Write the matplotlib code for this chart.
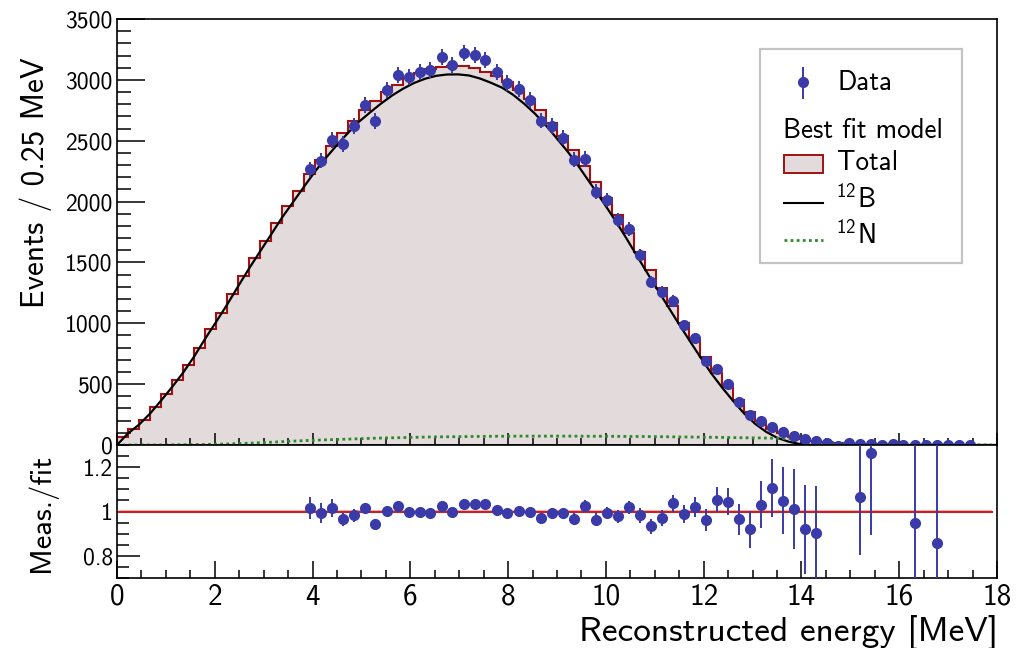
import numpy as np
import matplotlib
matplotlib.use("Agg")
import matplotlib.pyplot as plt
from matplotlib.lines import Line2D
from matplotlib.patches import Rectangle
from matplotlib.ticker import MultipleLocator

plt.rcParams['font.family'] = ['cmss10', 'DejaVu Sans']
plt.rcParams['mathtext.fontset'] = 'custom'
plt.rcParams['mathtext.rm'] = 'cmss10'
plt.rcParams['mathtext.sf'] = 'cmss10'
plt.rcParams['mathtext.it'] = 'cmss10'
plt.rcParams['axes.formatter.use_mathtext'] = True
plt.rcParams['axes.unicode_minus'] = False

# ---------------- data ----------------
bin_width = 0.225
n_bins = 80
first_data_bin = 17

total_events = [63, 129, 205, 310, 419, 534, 657, 800, 950, 1082,
                1238, 1389, 1539, 1676, 1826, 1964, 2089, 2227, 2345, 2460,
                2560, 2665, 2750, 2823, 2900, 2960, 3015, 3058, 3090, 3108,
                3115, 3112, 3098, 3065, 3030, 2985, 2915, 2840, 2750, 2645,
                2535, 2424, 2290, 2162, 2026, 1889, 1739, 1589, 1438, 1290,
                1146, 999, 861, 720, 591, 479, 368, 270, 197, 135,
                95, 68, 50, 36, 26, 18, 13, 10, 8, 6,
                5, 4, 3, 3, 2, 2, 2, 1, 1, 1]

n12_events = [0, 0, 0, 0, 1, 2, 3, 4, 5, 7,
              10, 13, 17, 21, 25, 30, 34, 38, 41, 44,
              47, 50, 53, 56, 58, 60, 62, 64, 66, 67,
              68, 69, 70, 71, 72, 72, 73, 73, 73, 73,
              73, 73, 72, 72, 72, 71, 70, 70, 69, 68,
              67, 66, 65, 64, 63, 62, 60, 59, 58, 56,
              54, 52, 48, 36, 26, 18, 13, 10, 8, 6,
              5, 4, 3, 3, 2, 2, 2, 1, 1, 1]

# 12B best-fit curve, sampled at the bin edges
b12_edges = [0, 96, 167, 258, 364, 475, 593, 725, 871, 1010,
             1152, 1302, 1449, 1589, 1728, 1868, 1995, 2122, 2247, 2360,
             2465, 2564, 2656, 2732, 2805, 2871, 2927, 2974, 3009, 3033,
             3044, 3045, 3036, 3011, 2976, 2936, 2878, 2805, 2722, 2625,
             2517, 2407, 2285, 2154, 2022, 1886, 1744, 1594, 1444, 1296,
             1151, 1006, 865, 726, 592, 473, 363, 260, 175, 109,
             60, 29, 9, 1, 0, 0, 0, 0, 0, 0,
             0, 0, 0, 0, 0, 0, 0, 0, 0, 0,
             0]

data_events = [2265, 2336, 2506, 2473, 2621, 2794, 2662, 2917, 3040, 3021,
               3062, 3081, 3185, 3122, 3218, 3204, 3163, 3062, 2971, 2922,
               2835, 2665, 2621, 2525, 2342, 2350, 2081, 2013, 1849, 1772,
               1561, 1342, 1260, 1186, 986, 877, 693, 624, 501, 351,
               246, 200, 151, 104, 77, 47, 33, 19, -8, 14,
               11, 12, 0, 10, -4, 3, -2, 2, -2, -3,
               -3]

data_err = [62, 62, 63, 63, 64, 64, 64, 65, 65, 65,
            65, 66, 66, 66, 66, 66, 66, 65, 65, 65,
            64, 64, 63, 63, 62, 62, 60, 60, 58, 58,
            50, 48, 46, 44, 42, 40, 37, 34, 31, 28,
            24, 21, 18, 15, 13, 11, 9, 8, 7, 6,
            5, 5, 4, 4, 4, 3, 3, 3, 3, 3,
            3]

nan = np.nan
ratio = [1.016, 0.994, 1.016, 0.964, 0.982, 1.015, 0.943, 1.004, 1.027, 1.000,
         1.000, 0.993, 1.024, 1.000, 1.033, 1.033, 1.033, 1.009, 0.994, 1.004,
         1.000, 0.970, 0.994, 0.994, 0.967, 1.024, 0.963, 0.994, 0.979, 1.019,
         0.982, 0.933, 0.972, 1.037, 0.988, 1.019, 0.963, 1.054, 1.045, 0.964,
         0.919, 1.031, 1.106, 1.049, 1.012, 0.919, 0.903, nan, nan, nan,
         1.064, 1.265, nan, nan, nan, 0.949, nan, 0.858, nan, nan,
         nan]

ratio_err = [0.050, 0.045, 0.040, 0.030, 0.030, 0.025, 0.020, 0.022, 0.022, 0.022,
             0.022, 0.022, 0.022, 0.022, 0.022, 0.022, 0.022, 0.022, 0.022, 0.022,
             0.022, 0.022, 0.024, 0.024, 0.026, 0.026, 0.028, 0.028, 0.030, 0.030,
             0.032, 0.034, 0.036, 0.038, 0.042, 0.046, 0.050, 0.057, 0.062, 0.070,
             0.085, 0.105, 0.130, 0.150, 0.180, 0.200, 0.210, 0.0, 0.0, 0.0,
             0.260, 0.370, 0.0, 0.0, 0.0, 0.600, 0.0, 0.600, 0.0, 0.0,
             0.0]

x_ticks = [0, 2, 4, 6, 8, 10, 12, 14, 16, 18]
y_ticks = [0, 500, 1000, 1500, 2000, 2500, 3000, 3500]
r_ticks = [0.8, 1.0, 1.2]
r_tick_labels = ['0.8', '1', '1.2']

# ---------------- style ----------------
W, H = 1016, 648
BLUE = '#3a3aa8'
FILL = '#e2dadb'
RED = '#a01212'
GREEN = '#2a8a2a'
RLINE = '#cc2020'

edges = np.arange(n_bins + 1) * bin_width
centers = edges[:-1] + bin_width / 2
xd = centers[first_data_bin:first_data_bin + len(data_events)]

fig = plt.figure(figsize=(W / 100, H / 100), dpi=100)


def fx(x):
    return x / W


def fy(y):
    return 1 - y / H


ax = fig.add_axes([fx(117), fy(445), fx(997) - fx(117), fy(19) - fy(445)])
axr = fig.add_axes([fx(117), fy(578), fx(997) - fx(117), fy(445) - fy(578)])

# top panel
ax.stairs(total_events, edges, fill=True, color=FILL, zorder=1)
ax.stairs(total_events, edges, baseline=0, color=RED, lw=1.5, zorder=2)
ax.plot(edges, b12_edges, color='black', lw=1.6, zorder=3)
ax.plot(centers, n12_events, color=GREEN, lw=2.0, ls=(0, (1, 1.2)), zorder=3)
eb = ax.errorbar(xd, data_events, yerr=data_err, fmt='o', color=BLUE, ms=7,
                 elinewidth=1.4, capsize=0, zorder=5)
for art in eb.lines[0:1]:
    art.set_clip_on(False)
for col in eb.lines[2]:
    col.set_clip_on(False)

ax.set_xlim(0, 18)
ax.set_ylim(0, 3500)
ax.set_xticks(x_ticks)
ax.set_xticklabels([])
ax.xaxis.set_minor_locator(MultipleLocator(0.5))
ax.set_yticks(y_ticks)
ax.set_yticklabels([str(v) for v in y_ticks])
ax.yaxis.set_minor_locator(MultipleLocator(100))
ax.tick_params(axis='both', which='both', direction='in', top=False, right=False,
               width=1.1, colors='black')
ax.tick_params(axis='y', which='major', length=20, labelsize=17, pad=3)
ax.tick_params(axis='y', which='minor', length=10)
ax.tick_params(axis='x', which='major', length=8.5)
ax.tick_params(axis='x', which='minor', length=5)
for s in ax.spines.values():
    s.set_linewidth(1.2)

# ratio panel
axr.fill_between([0.05, 17.9], [0.992, 0.992], [1.008, 1.008], color='#f0b4b4', lw=0, zorder=1)
axr.plot([0.05, 17.9], [1.0, 1.0], color=RLINE, lw=1.5, zorder=2)
axr.errorbar(xd, ratio, yerr=ratio_err, fmt='o', color=BLUE, ms=7,
             elinewidth=1.4, capsize=0, zorder=5)
axr.set_xlim(0, 18)
axr.set_ylim(0.7, 1.3)
axr.set_xticks(x_ticks)
axr.set_xticklabels([str(v) for v in x_ticks])
axr.xaxis.set_minor_locator(MultipleLocator(0.5))
axr.set_yticks(r_ticks)
axr.set_yticklabels(r_tick_labels)
axr.yaxis.set_minor_locator(MultipleLocator(0.05))
axr.tick_params(axis='both', which='both', direction='in', top=False, right=False,
                width=1.1, colors='black')
axr.tick_params(axis='x', which='major', length=12, labelsize=21, pad=4)
axr.tick_params(axis='x', which='minor', length=6)
axr.tick_params(axis='y', which='major', length=16.5, labelsize=17, pad=3)
axr.tick_params(axis='y', which='minor', length=8.5)
for s in axr.spines.values():
    s.set_linewidth(1.2)

# axis titles
fig.text(fx(36), fy(57), 'Events / 0.25 MeV', rotation=90, ha='center', va='top', fontsize=22.5)
fig.text(fx(42), fy(454), 'Meas./fit', rotation=90, ha='center', va='top', fontsize=22)
fig.text(fx(998), fy(641), 'Reconstructed energy [MeV]', ha='right', va='baseline', fontsize=25.5)

# legend (drawn by hand, ROOT style)
fig.add_artist(Rectangle((fx(760), fy(263)), fx(962) - fx(760), fy(49) - fy(263),
                         transform=fig.transFigure, facecolor='white', edgecolor='#c4c4c4',
                         lw=1.6, zorder=10))
fig.add_artist(Line2D([fx(803), fx(803)], [fy(68), fy(98)], transform=fig.transFigure,
                      color=BLUE, lw=1.4, zorder=11))
fig.add_artist(Line2D([fx(803)], [fy(82)], transform=fig.transFigure, marker='o', ms=7,
                      color=BLUE, ls='none', zorder=11))
fig.add_artist(Rectangle((fx(784), fy(173)), fx(823) - fx(784), fy(155) - fy(173),
                         transform=fig.transFigure, facecolor=FILL, edgecolor=RED,
                         lw=1.4, zorder=11))
fig.add_artist(Line2D([fx(784), fx(823)], [fy(203), fy(203)], transform=fig.transFigure,
                      color='black', lw=1.5, zorder=11))
fig.add_artist(Line2D([fx(784), fx(823)], [fy(240), fy(240)], transform=fig.transFigure,
                      color=GREEN, lw=2.0, ls=(0, (1, 1.2)), zorder=11))
leg_kw = dict(ha='left', va='baseline', fontsize=19.5, zorder=12)
fig.text(fx(837), fy(90), 'Data', **leg_kw)
fig.text(fx(783), fy(138), 'Best fit model', **leg_kw)
fig.text(fx(837), fy(170), 'Total', **leg_kw)
fig.text(fx(835), fy(208), r'$^{12}$B', **leg_kw)
fig.text(fx(835), fy(244), r'$^{12}$N', **leg_kw)

fig.savefig('out.png', dpi=100, facecolor='white')
